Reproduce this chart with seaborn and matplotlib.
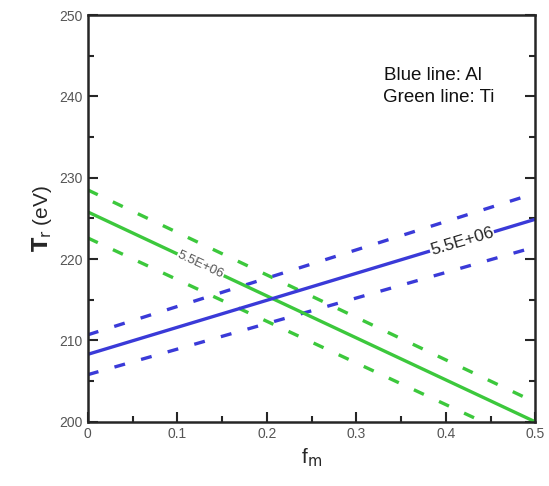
import seaborn as sns
import matplotlib.pyplot as plt
import pandas as pd

sns.set_style("ticks")
plt.rcParams['font.family'] = ['Liberation Sans', 'DejaVu Sans']

# valeurs (extrémités des droites)
fm = [0.0, 0.5]
al_mid = [208.3, 224.9]
al_up = [210.7, 228.1]
al_low = [205.8, 221.5]
ti_mid = [225.8, 200.0]
ti_up = [228.5, 202.4]
ti_low = [222.6, 197.0]

blue = '#3a3ad8'
green = '#3cc83c'

fig = plt.figure(figsize=(5.49, 4.86), dpi=100)
ax = fig.add_axes([0.160, 0.132, 0.815, 0.837])

df = pd.DataFrame({'fm': fm, 'al_mid': al_mid, 'al_up': al_up, 'al_low': al_low,
                   'ti_mid': ti_mid, 'ti_up': ti_up, 'ti_low': ti_low})

for col, c in [('ti_up', green), ('ti_low', green), ('al_up', blue), ('al_low', blue)]:
    sns.lineplot(data=df, x='fm', y=col, ax=ax, color=c, lw=2.4,
                 dashes=False, linestyle=(0, (3.3, 5)))
sns.lineplot(data=df, x='fm', y='ti_mid', ax=ax, color=green, lw=2.4)
sns.lineplot(data=df, x='fm', y='al_mid', ax=ax, color=blue, lw=2.4)

ax.set_xlim(0, 0.5)
ax.set_ylim(200, 250)
ax.set_xticks([0, 0.1, 0.2, 0.3, 0.4, 0.5])
ax.set_xticklabels(['0', '0.1', '0.2', '0.3', '0.4', '0.5'])
ax.set_yticks([200, 210, 220, 230, 240, 250])
ax.set_xticks([0.05, 0.15, 0.25, 0.35, 0.45], minor=True)
ax.set_yticks([205, 215, 225, 235, 245], minor=True)
ax.tick_params(which='both', direction='in', right=True, top=False,
               labelsize=10, labelcolor='#555555', width=1.5)
ax.tick_params(which='major', length=7)
ax.tick_params(which='minor', length=4)
for s in ax.spines.values():
    s.set_linewidth(1.8)

ax.set_xlabel(r'f$_\mathrm{m}$', fontsize=15)
ax.set_ylabel(r'$\mathbf{T}_\mathrm{r}$ (eV)', fontsize=15)

# étiquettes des contours
ax.text(0.418, 222.2, '5.5E+06', rotation=16.5, fontsize=12.5, ha='center', va='center',
        bbox=dict(facecolor='white', edgecolor='none', pad=0.5))
ax.text(0.126, 219.3, '5.5E+06', rotation=-25, fontsize=9.5, color='#555555',
        ha='center', va='center',
        bbox=dict(facecolor='white', edgecolor='none', pad=0.5))

ax.text(0.331, 242.0, 'Blue line: Al', fontsize=13.5, color='#111111')
ax.text(0.330, 239.3, 'Green line: Ti', fontsize=13.5, color='#111111')

plt.savefig('out.png', dpi=100)
